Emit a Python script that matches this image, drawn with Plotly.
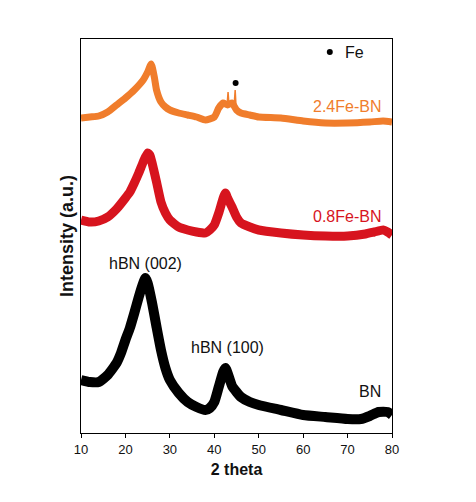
import plotly.graph_objects as go

# 2-theta positions (deg) and intensities (a.u., offset stacked)
bn_x = [10, 12, 14, 16, 18, 19, 20, 21, 22, 23, 24, 24.5, 25, 26, 27, 28, 29, 30, 32, 34, 36, 38, 39,
        40, 41, 42, 42.5, 43, 44, 45, 46, 48, 50, 55, 60, 65, 70, 73, 75, 77, 79, 80]
bn_y = [53, 51, 51, 58, 70, 80, 93, 105, 120, 136, 150, 155, 150, 130, 106, 83, 65, 53, 40, 31, 26, 23, 25,
        31, 46, 61, 65, 60, 47, 41, 36, 31, 28, 23, 18, 16, 14, 14, 17, 21, 21, 18]

fe08_x = [10, 12, 14, 16, 18, 20, 21, 22, 23, 24, 25, 25.5, 26, 27, 28, 29, 30, 32, 34, 36, 38, 39,
          40, 41, 42, 42.5, 43, 44, 45, 46, 48, 50, 55, 60, 65, 70, 74, 76, 78, 79, 80]
fe08_y = [213, 211, 212, 216, 224, 235, 241, 250, 260, 271, 280, 278, 270, 251, 231, 220, 213, 206, 203, 201, 200, 203,
          208, 220, 235, 240, 235, 226, 216, 210, 206, 203, 200, 198, 197, 197, 199, 201, 203, 201, 198]

fe24_x = [10, 12, 14, 16, 18, 20, 22, 24, 25, 25.8, 26.5, 27, 28, 29, 30, 32, 34, 36, 38,
          40, 41, 42, 43, 44, 45, 46, 48, 50, 55, 60, 65, 70, 75, 78, 80]
fe24_y = [315, 316, 317, 321, 328, 335, 343, 353, 361, 369, 356, 343, 331, 326, 323, 320, 318, 316, 313,
          316, 325, 330, 328, 330, 323, 320, 318, 316, 315, 312, 310, 310, 311, 312, 311]

# sharp Fe reflections on the 2.4Fe-BN pattern
fe24_spike_x = [42.9, 43.1, 43.3, 44.5, 44.7, 44.9]
fe24_spike_y = [329, 341, 329, 330, 343, 326]

fe_mark_x = [44.8]
fe_mark_y = [350]
fe_legend_x = [66.0]
fe_legend_y = [381]

x_ticks = [10, 20, 30, 40, 50, 60, 70, 80]

C_BLACK = "#000000"
C_RED = "#d7141e"
C_ORANGE = "#f07d2c"

fig = go.Figure()
fig.add_trace(go.Scatter(x=bn_x, y=bn_y, mode="lines",
                         line=dict(color=C_BLACK, width=10, shape="spline", smoothing=0.5)))
fig.add_trace(go.Scatter(x=fe08_x, y=fe08_y, mode="lines",
                         line=dict(color=C_RED, width=9, shape="spline", smoothing=0.5)))
fig.add_trace(go.Scatter(x=fe24_x, y=fe24_y, mode="lines",
                         line=dict(color=C_ORANGE, width=7, shape="spline", smoothing=0.5)))
fig.add_trace(go.Scatter(x=fe24_spike_x, y=fe24_spike_y, mode="lines",
                         line=dict(color=C_ORANGE, width=1.5)))
fig.add_trace(go.Scatter(x=fe_mark_x + fe_legend_x, y=fe_mark_y + fe_legend_y, mode="markers",
                         marker=dict(color="black", size=6)))

font_main = "Liberation Sans, Arial, sans-serif"
ann = []
def label(text, x, y, color, xanchor):
    ann.append(dict(text=text, x=x, y=y, xref="x", yref="y", showarrow=False,
                    xanchor=xanchor, yanchor="middle",
                    font=dict(family=font_main, size=16, color=color)))

label("2.4Fe-BN", 78.0, 327, C_ORANGE, "right")
label("0.8Fe-BN", 78.0, 217, C_RED, "right")
label("BN", 78.0, 42, "#111111", "right")
label("hBN (002)", 24.5, 170, "#111111", "center")
label("hBN (100)", 42.9, 86, "#111111", "center")
label("Fe", 69.0, 381, "#111111", "left")

# page body has an 8px margin, so the figure is shifted; compensate
fig.update_layout(
    width=468, height=494,
    margin=dict(l=73, r=84, t=31, b=69),
    paper_bgcolor="white", plot_bgcolor="white",
    showlegend=False,
    annotations=ann,
    font=dict(family=font_main, color="#111111"),
    xaxis=dict(range=[10, 80], tickvals=x_ticks, ticktext=[str(t) for t in x_ticks],
               ticks="outside", ticklen=4, tickwidth=1, tickcolor="black",
               showline=True, linecolor="black", linewidth=1, mirror=True,
               showgrid=False, zeroline=False,
               tickfont=dict(size=13, family=font_main, color="#111111"),
               title=dict(text="<b>2 theta</b>", font=dict(size=16, family=font_main, color="#111111"),
                          standoff=8)),
    yaxis=dict(range=[0, 394], showticklabels=False, ticks="",
               showline=True, linecolor="black", linewidth=1, mirror=True,
               showgrid=False, zeroline=False,
               title=dict(text="<b>Intensity (a.u.)</b>", font=dict(size=18, family=font_main, color="#111111"),
                          standoff=1)),
)

fig.write_html("out.html")
